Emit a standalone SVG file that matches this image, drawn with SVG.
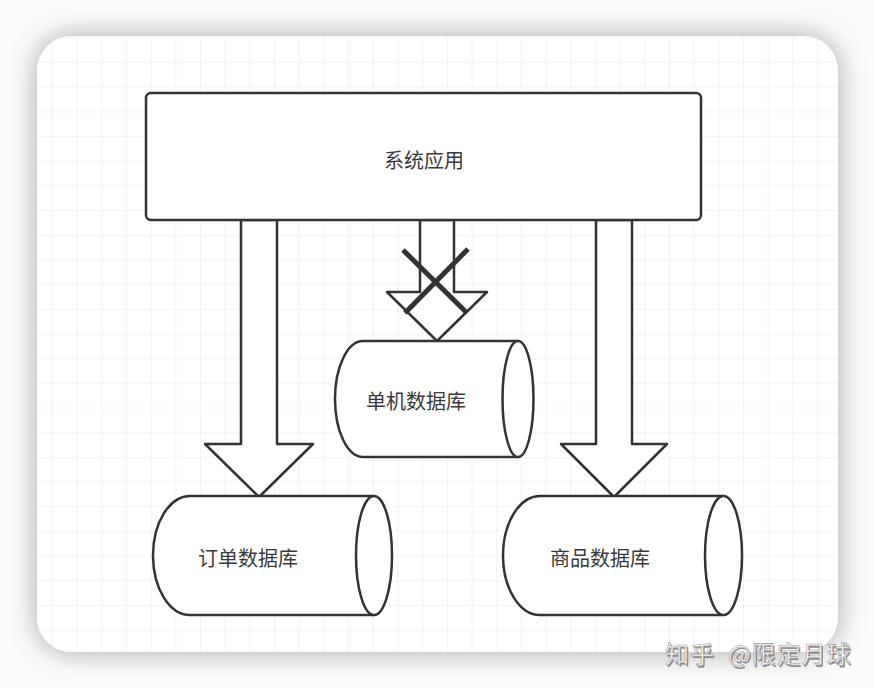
<svg xmlns="http://www.w3.org/2000/svg" width="874" height="688" viewBox="0 0 874 688">
<defs>
<style>
.shape{fill:#fff;stroke:#333;stroke-width:2.5;stroke-linejoin:round}
.lbl{font-family:"Noto Sans CJK SC","Noto Sans",sans-serif;font-size:20px;fill:#3a3a3a;text-anchor:middle;dominant-baseline:central}
.cross{stroke:#333;stroke-width:5;stroke-linecap:butt}
.wm{font-family:"Noto Sans CJK SC",sans-serif;font-size:24px;letter-spacing:1px}
</style>
<filter id="sh" x="-10%" y="-10%" width="120%" height="120%">
<feDropShadow dx="0" dy="0" stdDeviation="14" flood-color="#000" flood-opacity="0.34"/>
</filter>
<clipPath id="cardclip"><rect x="37" y="36" width="801" height="616" rx="35"/></clipPath>
<pattern id="gp" x="52" y="62" width="24.68" height="24.68" patternUnits="userSpaceOnUse">
<path d="M0,0 V24.68 M0,0 H24.68" stroke="#e9e9ee" stroke-width="1.2" fill="none"/>
</pattern>
</defs>
<rect width="874" height="688" fill="#fbfbfb"/>
<rect x="37" y="36" width="801" height="616" rx="35" fill="#fff" filter="url(#sh)"/>
<rect x="37" y="36" width="801" height="616" fill="url(#gp)" clip-path="url(#cardclip)"/>
<g id="connectors">
<polygon class="shape" points="241,220 241,444 205,444 259,497 313,444 277,444 277,220"/>
<polygon class="shape" points="596,220 596,444 561,444 614,497 667,444 632,444 632,220"/>
<polygon class="shape" points="420,220 420,292 387,292 437,341 487,292 454,292 454,220"/>
<line class="cross" x1="403" y1="250" x2="467" y2="313"/>
<line class="cross" x1="468" y1="249" x2="405" y2="313"/>
</g>
<g id="app">
<rect class="shape" x="146" y="93" width="555" height="127" rx="5"/>
<text class="lbl" x="424" y="159">系统应用</text>
</g>
<g id="db-single">
<path class="shape" d="M363,341 L518,341 A15.5,58 0 0 1 518,457 L363,457 A28,58 0 0 1 363,341 Z"/>
<path class="shape" fill="none" d="M518,341 A15.5,58 0 0 0 518,457"/>
<text class="lbl" x="416" y="400">单机数据库</text>
</g>
<g id="db-order">
<path class="shape" d="M190,496 L374,496 A18,59.5 0 0 1 374,615 L190,615 A37,59.5 0 0 1 190,496 Z"/>
<path class="shape" fill="none" d="M374,496 A18,59.5 0 0 0 374,615"/>
<text class="lbl" x="248" y="557">订单数据库</text>
</g>
<g id="db-goods">
<path class="shape" d="M540,496 L723.5,496 A18.5,59.5 0 0 1 723.5,615 L540,615 A37,59.5 0 0 1 540,496 Z"/>
<path class="shape" fill="none" d="M723.5,496 A18.5,59.5 0 0 0 723.5,615"/>
<text class="lbl" x="600" y="557">商品数据库</text>
</g>
<g id="watermark">
<text class="wm" x="666.5" y="664.5" fill="#777" opacity="0.8">知乎<tspan x="729.5">@限定月球</tspan></text>
<text class="wm" x="665" y="663" fill="#fff" stroke="#999" stroke-width="0.6">知乎<tspan x="728">@限定月球</tspan></text>
</g>
</svg>
